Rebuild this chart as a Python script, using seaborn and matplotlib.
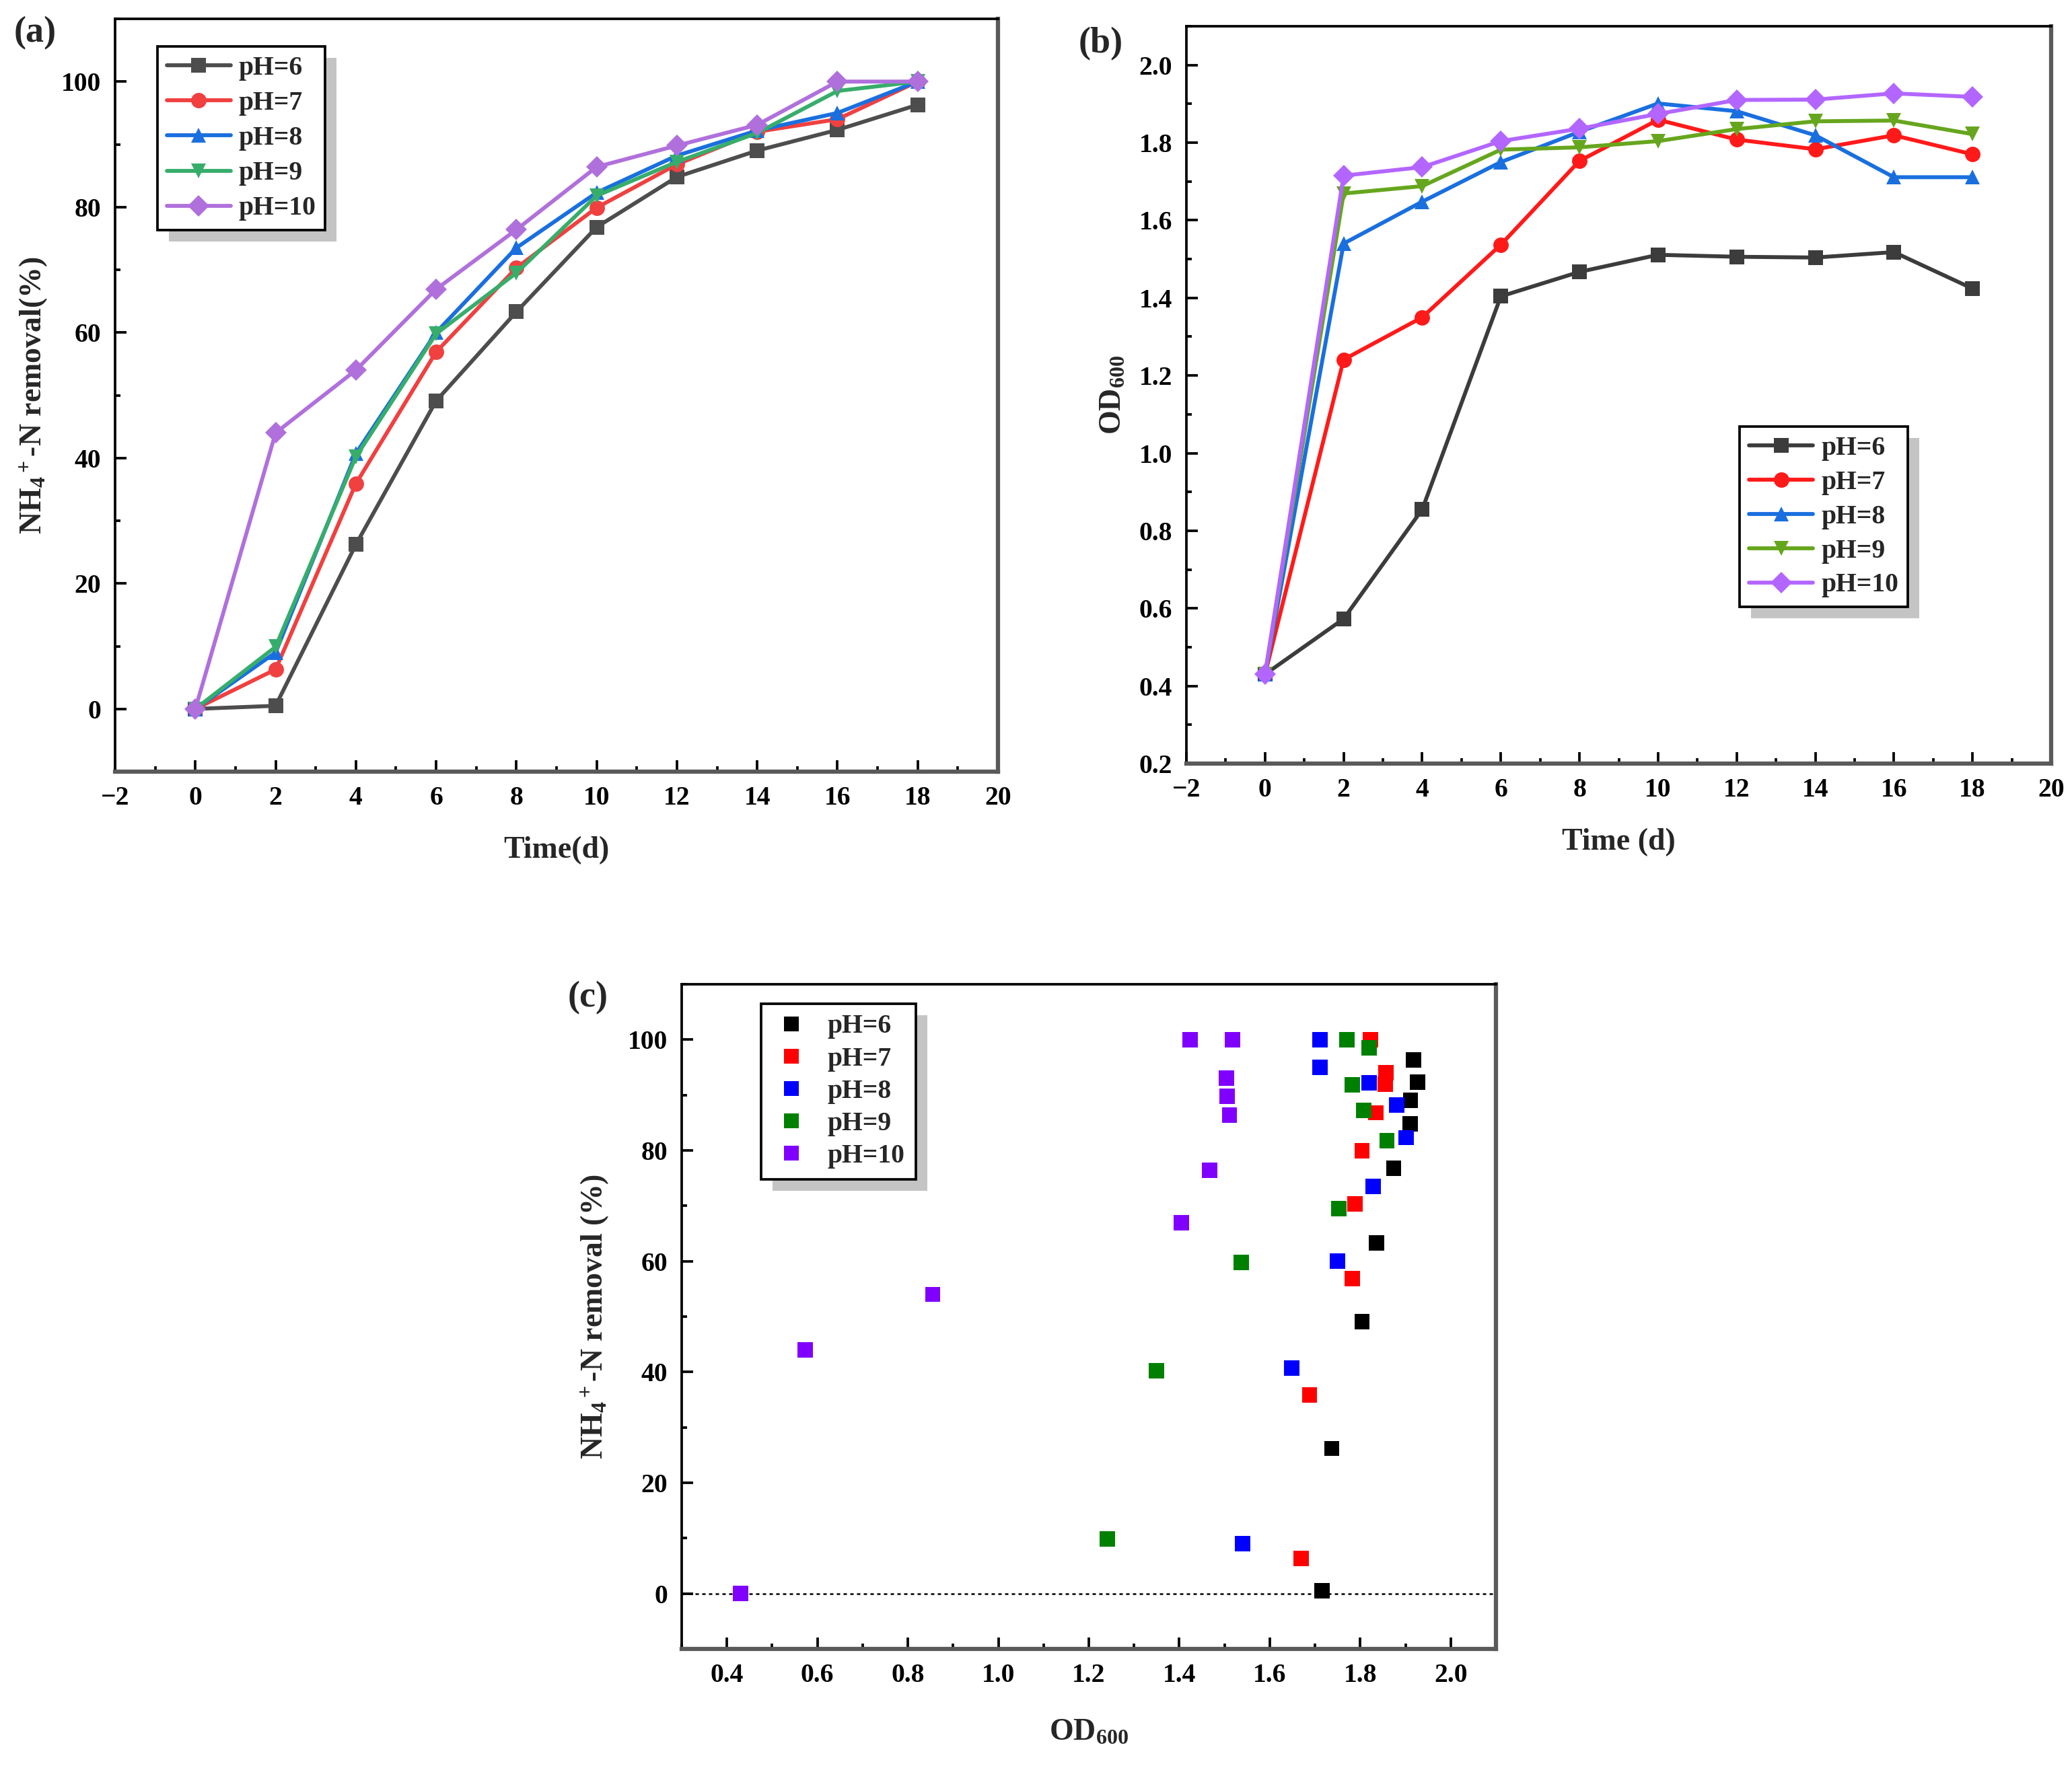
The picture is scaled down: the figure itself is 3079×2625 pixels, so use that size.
import numpy as np
import pandas as pd
import matplotlib
matplotlib.use("Agg")
import matplotlib.pyplot as plt
import seaborn as sns
from matplotlib.patches import Rectangle
from matplotlib.ticker import MultipleLocator

# ---- data ----
days = [0, 2, 4, 6, 8, 10, 12, 14, 16, 18]
ph_labels = ["pH=6", "pH=7", "pH=8", "pH=9", "pH=10"]

# NH4+-N removal (%)
removal_ph6 = [0, 0.5, 26.2, 49.1, 63.3, 76.8, 84.8, 89.0, 92.3, 96.3]
removal_ph7 = [0, 6.3, 35.9, 56.9, 70.3, 79.9, 86.8, 92.0, 94.0, 100]
removal_ph8 = [0, 9.0, 40.7, 60.0, 73.5, 82.3, 88.2, 92.2, 95.0, 100]
removal_ph9 = [0, 9.9, 40.2, 59.8, 69.5, 81.8, 87.2, 91.8, 98.5, 100]
removal_ph10 = [0, 44.0, 54.0, 66.9, 76.4, 86.4, 89.8, 93.1, 100, 100]

# OD600
od_ph6 = [0.43, 0.573, 0.855, 1.404, 1.467, 1.511, 1.506, 1.504, 1.518, 1.424]
od_ph7 = [0.43, 1.241, 1.350, 1.537, 1.753, 1.859, 1.808, 1.783, 1.819, 1.770]
od_ph8 = [0.43, 1.540, 1.648, 1.750, 1.828, 1.901, 1.881, 1.819, 1.711, 1.711]
od_ph9 = [0.43, 1.669, 1.688, 1.782, 1.788, 1.804, 1.835, 1.855, 1.857, 1.822]
od_ph10 = [0.43, 1.715, 1.737, 1.804, 1.836, 1.874, 1.910, 1.911, 1.927, 1.918]

removal_all = [removal_ph6, removal_ph7, removal_ph8, removal_ph9, removal_ph10]
od_all = [od_ph6, od_ph7, od_ph8, od_ph9, od_ph10]
# panel (c) in the original pairs each removal series with the OD series in reverse pH order
od_for_c = od_all[::-1]

pal_a = ["#4d4d4d", "#f04040", "#1a6fdf", "#37ad6b", "#b070dc"]
pal_b = ["#3c3c3c", "#ff1a1a", "#1a6fdf", "#66a61e", "#b366ff"]
pal_c = ["#000000", "#ff0000", "#0000ff", "#008000", "#8000ff"]
markers = ["s", "o", "^", "v", "D"]

df = pd.DataFrame({
    "Time": days * len(ph_labels),
    "pH": np.repeat(ph_labels, len(days)),
    "removal": sum(removal_all, []),
    "od": sum(od_all, []),
    "od_c": sum(od_for_c, []),
})

sns.set_theme(style="ticks", context="paper")
plt.rcParams["font.family"] = ["Liberation Serif", "DejaVu Serif"]
plt.rcParams["font.weight"] = "bold"
plt.rcParams["axes.labelweight"] = "bold"
plt.rcParams["mathtext.fontset"] = "custom"
plt.rcParams["mathtext.rm"] = "Liberation Serif:bold"
plt.rcParams["mathtext.it"] = "Liberation Serif:bold:italic"
plt.rcParams["mathtext.bf"] = "Liberation Serif:bold"
plt.rcParams["mathtext.default"] = "rm"

W, H = 3079, 2625
fig = plt.figure(figsize=(W / 300, H / 300), dpi=300)

ax_a = fig.add_axes([171 / W, 1 - 1147 / H, (1483 - 171) / W, (1147 - 28) / H])
ax_b = fig.add_axes([1763 / W, 1 - 1135 / H, (3048 - 1763) / W, (1135 - 39) / H])
ax_c = fig.add_axes([1013 / W, 1 - 2451 / H, (2223 - 1013) / W, (2451 - 1463) / H])

line_kw = dict(hue="pH", style="pH", markers=markers, dashes=False,
               linewidth=1.4, markersize=5.5, markeredgewidth=0)

sns.lineplot(data=df, x="Time", y="removal", palette=pal_a, ax=ax_a, **line_kw)
sns.lineplot(data=df, x="Time", y="od", palette=pal_b, ax=ax_b, **line_kw)
sns.scatterplot(data=df, x="od_c", y="removal", hue="pH", palette=pal_c,
                marker="s", s=30, linewidth=0, ax=ax_c, zorder=3)
ax_c.axhline(0, color="black", linestyle=(0, (2, 2)), linewidth=0.6, zorder=1)


def style_axes(ax):
    ax.tick_params(which="both", direction="in", top=False, right=False,
                   labelsize=9.5, pad=5, colors="black")
    ax.tick_params(which="major", length=4, width=0.9)
    ax.tick_params(which="minor", length=2, width=0.9)
    for side in ["top", "left"]:
        ax.spines[side].set_color("black")
        ax.spines[side].set_linewidth(0.9)
    for side in ["right", "bottom"]:
        ax.spines[side].set_color("#5a5a5a")
        ax.spines[side].set_linewidth(1.5)
        ax.spines[side].set_visible(True)
    ax.spines["top"].set_visible(True)


# panel a
ax_a.set_xlim(-2, 20)
ax_a.set_ylim(-10, 110)
ax_a.xaxis.set_major_locator(MultipleLocator(2))
ax_a.xaxis.set_minor_locator(MultipleLocator(1))
ax_a.yaxis.set_major_locator(MultipleLocator(20))
ax_a.yaxis.set_minor_locator(MultipleLocator(10))
ax_a.set_xlabel("Time(d)", fontsize=11, labelpad=9)
ax_a.set_ylabel("NH$_4$$^+$-N removal(%)", fontsize=11, labelpad=4)

# panel b
ax_b.set_xlim(-2, 20)
ax_b.set_ylim(0.2, 2.1)
ax_b.xaxis.set_major_locator(MultipleLocator(2))
ax_b.xaxis.set_minor_locator(MultipleLocator(1))
ax_b.yaxis.set_major_locator(MultipleLocator(0.2))
ax_b.yaxis.set_minor_locator(MultipleLocator(0.1))
ax_b.yaxis.set_major_formatter(matplotlib.ticker.FormatStrFormatter("%.1f"))
ax_b.set_xlabel("Time (d)", fontsize=11, labelpad=9)
ax_b.set_ylabel("OD$_{600}$", fontsize=11, labelpad=4)

# panel c
ax_c.set_xlim(0.3, 2.1)
ax_c.set_ylim(-10, 110)
ax_c.xaxis.set_major_locator(MultipleLocator(0.2))
ax_c.xaxis.set_minor_locator(MultipleLocator(0.1))
ax_c.xaxis.set_major_formatter(matplotlib.ticker.FormatStrFormatter("%.1f"))
ax_c.yaxis.set_major_locator(MultipleLocator(20))
ax_c.yaxis.set_minor_locator(MultipleLocator(10))
ax_c.set_xlabel("OD$_{600}$", fontsize=11, labelpad=11)
ax_c.set_ylabel("NH$_4$$^+$-N removal (%)", fontsize=11, labelpad=6)

for ax in (ax_a, ax_b, ax_c):
    style_axes(ax)

leg_kw = dict(loc="upper left", frameon=True, fancybox=False, edgecolor="black",
              framealpha=1, prop={"weight": "bold", "size": 9.5}, borderaxespad=0)

h, l = ax_a.get_legend_handles_labels()
for hd in h:
    hd.set_markeredgewidth(0)
leg_a = ax_a.legend(h, l, bbox_to_anchor=(0.048, 0.963), handlelength=2.4,
                    handletextpad=0.3, borderpad=0.35, labelspacing=0.38, **leg_kw)

h, l = ax_b.get_legend_handles_labels()
for hd in h:
    hd.set_markeredgewidth(0)
leg_b = ax_b.legend(h, l, bbox_to_anchor=(0.640, 0.457), handlelength=2.4,
                    handletextpad=0.3, borderpad=0.35, labelspacing=0.35, **leg_kw)

h, l = ax_c.get_legend_handles_labels()
leg_c = ax_c.legend(h, l, bbox_to_anchor=(0.0975, 0.971), handlelength=1.5,
                    handletextpad=0.6, borderpad=0.4, labelspacing=0.28,
                    markerscale=1.0, **leg_kw)

for leg in (leg_a, leg_b, leg_c):
    leg.get_frame().set_linewidth(0.9)

# grey drop shadows behind the legend boxes
fig.canvas.draw()
off = 17
for ax, leg in ((ax_a, leg_a), (ax_b, leg_b), (ax_c, leg_c)):
    bb = leg.get_window_extent()
    inv = ax.transAxes.inverted()
    x0, y0 = inv.transform((bb.x0 + off, bb.y0 - off))
    x1, y1 = inv.transform((bb.x1 + off, bb.y1 - off))
    ax.add_patch(Rectangle((x0, y0), x1 - x0, y1 - y0, transform=ax.transAxes,
                           facecolor="#c4c4c4", edgecolor="none", zorder=4.5,
                           clip_on=False))

fig.text(52 / W, 1 - 49 / H, "(a)", ha="center", va="center", fontsize=13, fontweight="bold")
fig.text(1636 / W, 1 - 65 / H, "(b)", ha="center", va="center", fontsize=13, fontweight="bold")
fig.text(874 / W, 1 - 1483 / H, "(c)", ha="center", va="center", fontsize=13, fontweight="bold")

fig.savefig("out.png", dpi=300, facecolor="white")
